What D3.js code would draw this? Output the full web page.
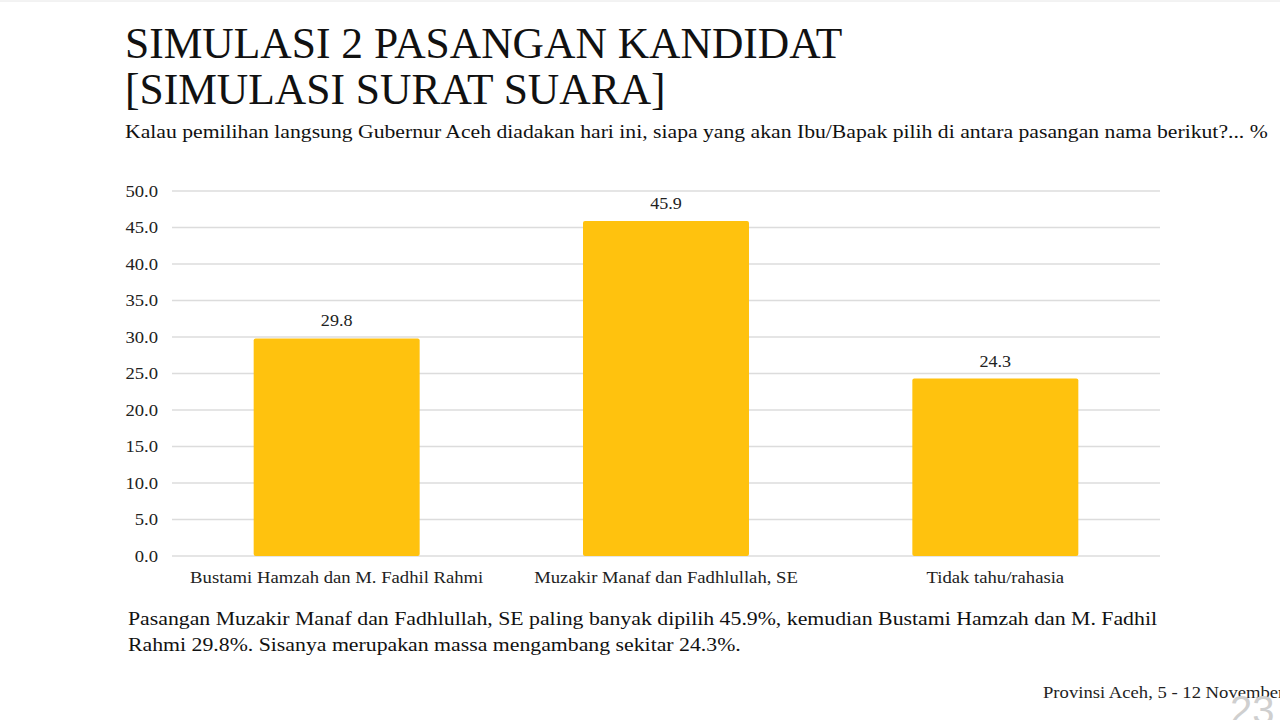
<!DOCTYPE html>
<html>
<head>
<meta charset="utf-8">
<script src="https://cdn.jsdelivr.net/npm/d3@7"></script>
<style>
  body { margin: 0; background: #fff; }
  svg { display: block; }
</style>
</head>
<body>
<svg id="chart"></svg>
<script>
const categories = ['Bustami Hamzah dan M. Fadhil Rahmi', 'Muzakir Manaf dan Fadhlullah, SE', 'Tidak tahu/rahasia']
const values = [29.8, 45.9, 24.3]
const yTicks = [0, 5, 10, 15, 20, 25, 30, 35, 40, 45, 50]

const titleLines = ['SIMULASI 2 PASANGAN KANDIDAT', '[SIMULASI SURAT SUARA]']
const subtitle = 'Kalau pemilihan langsung Gubernur Aceh diadakan hari ini, siapa yang akan Ibu/Bapak pilih di antara pasangan nama berikut?... %'
const noteLines = [
  'Pasangan Muzakir Manaf dan Fadhlullah, SE paling banyak dipilih 45.9%, kemudian Bustami Hamzah dan M. Fadhil',
  'Rahmi 29.8%. Sisanya merupakan massa mengambang sekitar 24.3%.'
]
const source = 'Provinsi Aceh, 5 - 12 November'

const width = 1280
const height = 720
const margin = { top: 191, right: 120, bottom: 164, left: 172 }
const serif = '"Liberation Serif", "Times New Roman", serif'
// the slide is a bit wider than it is tall in the photo, so text is stretched sideways
const stretch = 1.13

const svg = d3.select('#chart')
  .attr('width', width)
  .attr('height', height)
  .style('font-family', serif)

function widen(sel, k) {
  sel.each(function () {
    const w = this.getComputedTextLength()
    d3.select(this)
      .attr('textLength', w * k)
      .attr('lengthAdjust', 'spacingAndGlyphs')
  })
}

svg.append('line')
  .attr('x1', 0).attr('x2', width)
  .attr('y1', 1).attr('y2', 1)
  .style('stroke', '#e6e6e6')

svg.selectAll('.title')
  .data(titleLines)
  .join('text')
  .attr('class', 'title')
  .attr('x', 125)
  .attr('y', (d, i) => 58 + i * 46)
  .style('font-family', serif)
  .style('font-size', '43.5px')
  .style('fill', '#111')
  .text(d => d)

svg.append('text')
  .attr('class', 'sub')
  .attr('x', 125)
  .attr('y', 138)
  .style('font-family', serif)
  .style('font-size', '18.5px')
  .style('fill', '#111')
  .text(subtitle)
  .call(widen, 1.172)

const x = d3.scaleBand()
  .domain(categories)
  .range([margin.left, width - margin.right])
  .paddingInner(0.496)
  .paddingOuter(0.248)

const y = d3.scaleLinear()
  .domain([0, 50])
  .range([height - margin.bottom, margin.top])

// gridlines
svg.append('g')
  .selectAll('line')
  .data(yTicks)
  .join('line')
  .attr('x1', margin.left)
  .attr('x2', width - margin.right)
  .attr('y1', d => y(d))
  .attr('y2', d => y(d))
  .style('stroke', '#dcdcdc')
  .style('stroke-width', 1.3)

// y axis labels
const yAxis = svg.append('g')
  .attr('transform', `translate(${margin.left - 14},0)`)
  .call(d3.axisLeft(y).tickValues(yTicks).tickFormat(d3.format('.1f')).tickSize(0).tickPadding(0))
yAxis.attr('font-family', null)
yAxis.select('.domain').remove()
yAxis.selectAll('text')
  .style('font-family', serif)
  .style('font-size', '16.5px')
  .style('fill', '#222')
  .call(widen, stretch)

// bars
svg.append('g')
  .selectAll('rect')
  .data(values)
  .join('rect')
  .attr('x', (d, i) => x(categories[i]))
  .attr('y', d => y(d))
  .attr('width', x.bandwidth())
  .attr('height', d => y(0) - y(d))
  .attr('rx', 2)
  .style('fill', '#FFC20E')

// value labels
svg.append('g')
  .selectAll('text')
  .data(values)
  .join('text')
  .attr('x', (d, i) => x(categories[i]) + x.bandwidth() / 2)
  .attr('y', d => y(d) - 12)
  .attr('text-anchor', 'middle')
  .style('font-family', serif)
  .style('font-size', '16px')
  .style('fill', '#222')
  .text(d => d.toFixed(1))
  .call(widen, stretch)

// category labels
const xAxis = svg.append('g')
  .attr('transform', `translate(0,${y(0)})`)
  .call(d3.axisBottom(x).tickSize(0).tickPadding(15))
xAxis.attr('font-family', null)
xAxis.select('.domain').remove()
xAxis.selectAll('text')
  .style('font-family', serif)
  .style('font-size', '16.5px')
  .style('fill', '#222')
  .call(widen, stretch)

// note below the chart
svg.selectAll('.note')
  .data(noteLines)
  .join('text')
  .attr('class', 'note')
  .attr('x', 128)
  .attr('y', (d, i) => 625 + i * 26)
  .style('font-family', serif)
  .style('font-size', '19.5px')
  .style('fill', '#111')
  .text(d => d)
  .call(widen, 1.117)

svg.append('text')
  .attr('x', 1043)
  .attr('y', 698)
  .style('font-family', serif)
  .style('font-size', '16.5px')
  .style('fill', '#222')
  .text(source)
  .call(widen, stretch)

// page number, mostly cut off at the corner
svg.append('text')
  .attr('x', 1230)
  .attr('y', 724)
  .style('font-family', '"Liberation Sans", sans-serif')
  .style('font-size', '40px')
  .style('fill', '#cfcfcf')
  .text('23')
</script>
</body>
</html>
